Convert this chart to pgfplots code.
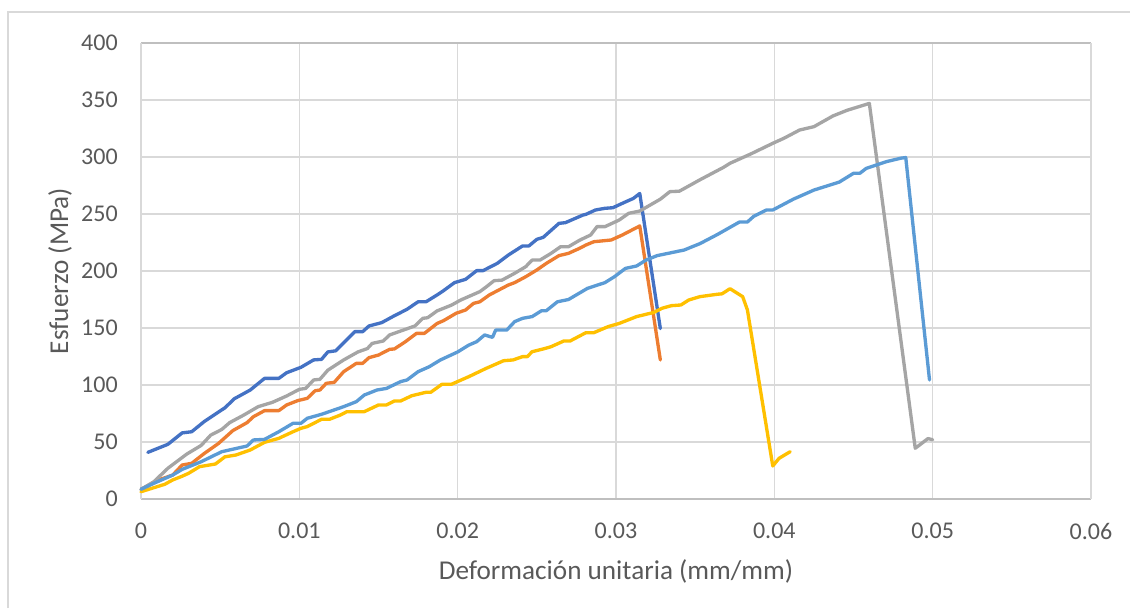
\documentclass[border=0pt]{standalone}
\usepackage{fontspec}
\setmainfont{Carlito}
\usepackage{pgfplots}
\pgfplotsset{compat=1.18}
\definecolor{cA}{HTML}{4472C4}
\definecolor{cB}{HTML}{ED7D31}
\definecolor{cC}{HTML}{A5A5A5}
\definecolor{cD}{HTML}{FFC000}
\definecolor{cE}{HTML}{5B9BD5}
\definecolor{gridc}{HTML}{D9D9D9}
\definecolor{axc}{HTML}{BFBFBF}
\definecolor{txt}{HTML}{595959}
\begin{document}
\begin{tikzpicture}
\useasboundingbox (0,0) rectangle (847.5pt,456pt);
\draw[gridc, line width=1pt] (6pt,0) -- (6pt,447pt) -- (847.5pt,447pt);
\begin{axis}[
  at={(105.75pt,81.75pt)}, anchor=south west,
  scale only axis, width=712.5pt, height=342pt,
  xmin=0, xmax=0.06, ymin=0, ymax=400,
  scaled x ticks=false, scaled y ticks=false,
  xtick={0,0.01,0.02,0.03,0.04,0.05,0.06},
  xticklabels={0,0.01,0.02,0.03,0.04,0.05,0.06},
  ytick={0,50,100,150,200,250,300,350,400},
  yticklabels={0,50,100,150,200,250,300,350,400},
  major tick length=0pt,
  grid=major,
  grid style={gridc, line width=1pt},
  separate axis lines,
  x axis line style={draw=axc, line width=1pt},
  y axis line style={draw=gridc, line width=1pt},
  tick label style={font=\fontsize{18}{22}\selectfont, text=txt},
  xticklabel style={anchor=north, inner sep=0pt, yshift=-18pt},
  yticklabel style={anchor=east, inner sep=0pt, xshift=-17.25pt},
  label style={font=\fontsize{20.4}{24}\selectfont, text=txt},
  xlabel={Deformación unitaria (mm/mm)},
  ylabel={Esfuerzo (MPa)},
  xlabel style={at={(axis description cs:0.5,-0.1579)}, anchor=center},
  ylabel style={at={(axis description cs:-0.0853,0.5)}, anchor=center},
  clip=false,
  every axis plot/.append style={line width=2.5pt, line join=round, line cap=round, no marks},
]
\addplot[cA] coordinates {
(0.00043,40.9)(0.0017,48)(0.0026,58)(0.0032,59)(0.004,68)(0.0053,80)(0.0059,88)(0.0069,95.6)(0.0078,105.8)(0.0087,105.8)(0.0092,110.8)(0.0101,115.5)(0.0109,122)(0.0114,122.5)(0.0118,129)(0.0123,130)(0.0135,146.8)(0.014,146.8)(0.0144,151.8)(0.0152,154.7)(0.0159,160)(0.0168,166.4)(0.0175,173)(0.018,173)(0.0187,179)(0.0191,182.7)(0.0198,189.8)(0.0205,192.7)(0.0212,200.3)(0.0216,200.3)(0.0225,206.7)(0.0232,214)(0.0241,222)(0.0245,222)(0.025,227.8)(0.0254,229.5)(0.0264,241.8)(0.0268,242.4)(0.0279,249)(0.0281,249.7)(0.0287,253.5)(0.0293,255)(0.0298,255.5)(0.0305,260)(0.0311,263.7)(0.0315,268)(0.0328,149.5)
};
\addplot[cB] coordinates {
(0,8.5)(0.0011,16.7)(0.002,21)(0.0026,29.8)(0.0032,31.3)(0.004,40)(0.0049,48.8)(0.0058,60)(0.0067,67)(0.0071,72.2)(0.0078,77.5)(0.0087,77.5)(0.0092,82.5)(0.0099,86.3)(0.0105,88.3)(0.011,95)(0.0113,95.6)(0.0117,101.5)(0.0122,102.3)(0.0128,111.7)(0.0136,119)(0.014,119)(0.0144,124)(0.015,126.3)(0.0157,131.3)(0.016,131.6)(0.0167,138)(0.0174,145.3)(0.0179,145.3)(0.0187,154)(0.0191,156.4)(0.0199,162.9)(0.0205,165.8)(0.021,171.6)(0.0214,173)(0.022,179)(0.0232,187.7)(0.0236,189.8)(0.0243,195)(0.025,200.9)(0.0256,206.7)(0.0264,213.5)(0.027,215.5)(0.0277,219.9)(0.0281,222.8)(0.0286,225.7)(0.0297,227.2)(0.0304,231.6)(0.0315,239.5)(0.0328,122)
};
\addplot[cC] coordinates {
(0,8.5)(0.0008,15)(0.0017,27)(0.0029,39.5)(0.0038,47)(0.0044,56)(0.0051,61)(0.0056,67)(0.0065,73.7)(0.0074,81)(0.0083,84.8)(0.0092,90.4)(0.01,96.2)(0.0104,97)(0.0109,104.4)(0.0113,105)(0.0118,113)(0.0128,122)(0.0137,129)(0.0143,132)(0.0146,136.5)(0.0153,138.6)(0.0157,143.9)(0.0173,151.8)(0.0178,158.5)(0.0181,159)(0.0187,165)(0.0196,170)(0.0202,174.6)(0.0214,181.9)(0.0218,186)(0.0223,191.5)(0.0228,192)(0.0236,198)(0.0243,203.8)(0.0247,209.6)(0.0252,209.6)(0.0259,215.5)(0.0265,221.3)(0.027,221.3)(0.0277,227)(0.0284,231.6)(0.0288,238.9)(0.0293,238.9)(0.0302,244.7)(0.0308,250.6)(0.0315,252.6)(0.0328,263)(0.0334,269.6)(0.034,270)(0.0353,280)(0.0368,291)(0.0372,294.5)(0.0385,302.6)(0.0399,312)(0.0406,316.4)(0.0416,323.7)(0.0425,326.6)(0.0437,336)(0.0446,341)(0.046,347)(0.0489,44.5)(0.0497,53)(0.05,52)
};
\addplot[cD] coordinates {
(0,6.4)(0.0015,12.9)(0.002,16.7)(0.0026,20)(0.003,22.5)(0.0037,28.4)(0.0047,30.7)(0.0053,37)(0.006,38.6)(0.0069,43)(0.0078,49.7)(0.0087,53.2)(0.0096,59)(0.0101,62)(0.0105,63.5)(0.0114,69.9)(0.0119,69.9)(0.0126,73.7)(0.013,76.6)(0.0141,76.6)(0.015,82.5)(0.0155,82.5)(0.016,86)(0.0164,86)(0.0171,90.6)(0.018,93.6)(0.0183,93.6)(0.019,100.6)(0.0196,100.6)(0.0207,107.3)(0.0218,114.6)(0.0229,121.3)(0.0235,122)(0.0241,124.9)(0.0244,124.9)(0.0247,129.2)(0.0254,131.6)(0.0259,133.6)(0.0267,138.6)(0.0271,138.6)(0.0281,145.9)(0.0286,145.9)(0.0295,151.2)(0.0302,154)(0.0313,160)(0.0324,163.7)(0.0329,167.3)(0.0335,169.6)(0.0341,170.2)(0.0346,174.6)(0.0353,177.5)(0.0364,179.6)(0.0367,180)(0.0372,184.5)(0.038,177.5)(0.0383,165.8)(0.0399,29)(0.0403,35.7)(0.041,41.5)
};
\addplot[cE] coordinates {
(0,8.5)(0.0008,13.7)(0.002,21)(0.0026,26)(0.0038,32.7)(0.0051,41.5)(0.0067,46.5)(0.0071,51.8)(0.0078,52.3)(0.0087,59)(0.0096,66.4)(0.0101,66.4)(0.0105,70.8)(0.0114,74.3)(0.0128,81)(0.0136,85.4)(0.0141,91.2)(0.0149,95.6)(0.0155,97)(0.0164,103)(0.0168,104.4)(0.0175,111.7)(0.0182,116)(0.0189,121.9)(0.02,129)(0.0207,135)(0.0212,138)(0.0217,143.9)(0.0222,141.8)(0.0224,148.2)(0.0231,148.2)(0.0236,155.6)(0.0241,158.5)(0.0247,160)(0.0253,165.2)(0.0256,165.2)(0.0263,173)(0.027,175)(0.0282,184.8)(0.0293,189.8)(0.0299,195)(0.0306,202.3)(0.0313,204.4)(0.0319,209.6)(0.0326,213.5)(0.0343,218.4)(0.0353,224)(0.0364,232)(0.0378,243)(0.0383,243)(0.0387,248)(0.0395,253.5)(0.0399,253.5)(0.0412,263)(0.0425,271)(0.0441,278)(0.045,285.7)(0.0454,285.7)(0.0458,290)(0.0471,296)(0.048,299)(0.0483,299.5)(0.0498,104.4)
};
\end{axis}
\end{tikzpicture}
\end{document}
